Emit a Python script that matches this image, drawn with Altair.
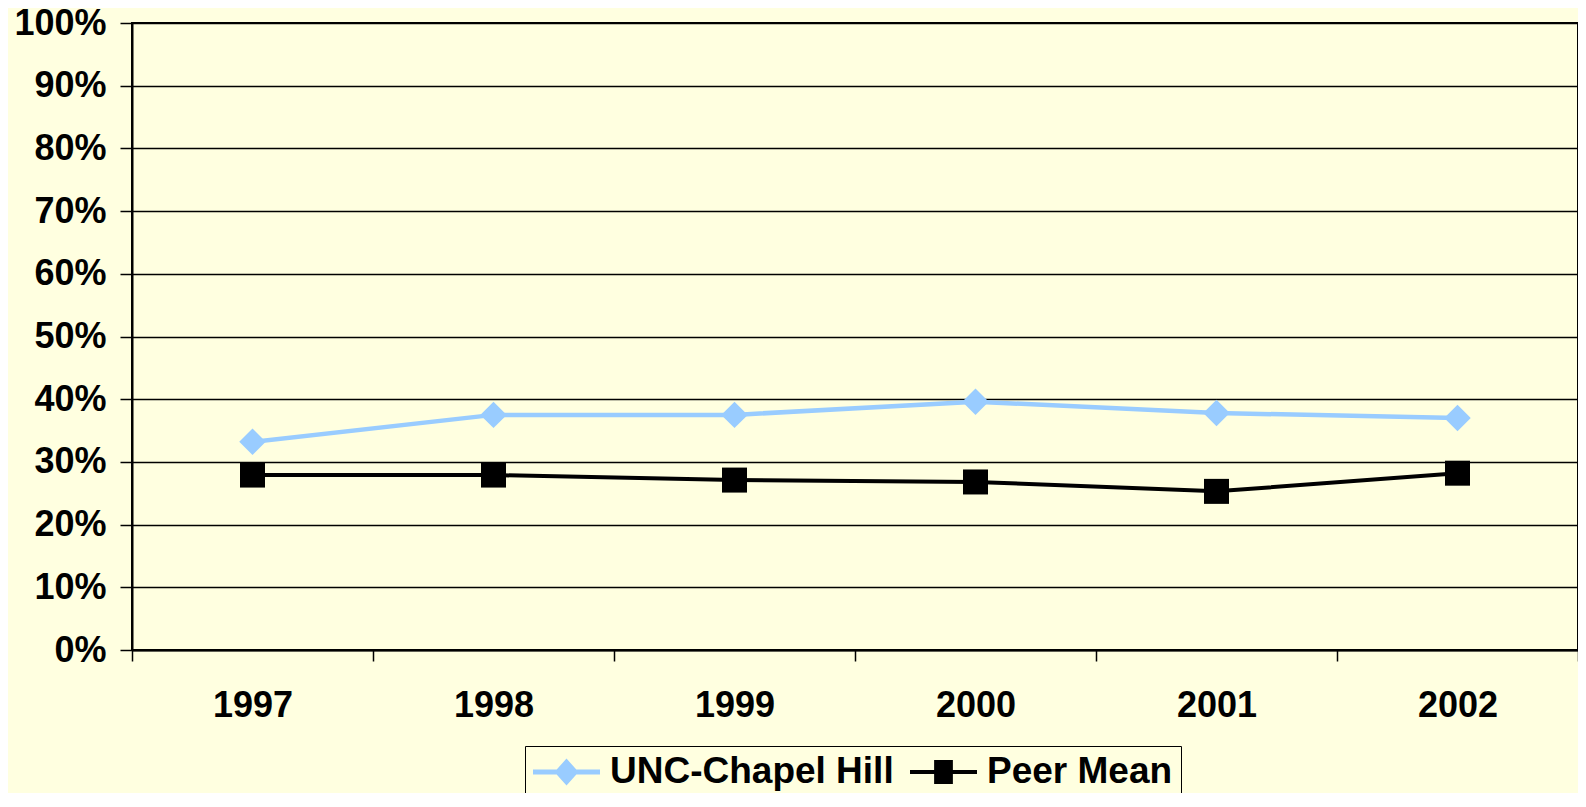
import altair as alt
import pandas as pd

years = ["1997", "1998", "1999", "2000", "2001", "2002"]
series_names = ["UNC-Chapel Hill", "Peer Mean"]
unc = [33.2, 37.5, 37.5, 39.6, 37.8, 37.0]
peer = [27.9, 27.9, 27.1, 26.8, 25.3, 28.2]
y_ticks = [0, 10, 20, 30, 40, 50, 60, 70, 80, 90, 100]

colors = ["#99CCFF", "#000000"]
# legend symbols: line segment + marker (custom SVG paths, all filled, clockwise)
legend_paths = [
    "M-1,-0.075H1V0.075H-1ZM0,-0.4L0.36,0L0,0.4L-0.36,0Z",
    "M-1,-0.06H1V0.06H-1ZM-0.28,-0.36H0.28V0.36H-0.28Z",
]

rows = []
for s, vals in zip(series_names, [unc, peer]):
    for yr, v in zip(years, vals):
        rows.append({"year": yr, "series": s, "value": v})
df = pd.DataFrame(rows)

FONT = "Liberation Sans"
BG = "#FFFFE0"

x_enc = alt.X(
    "year:N",
    sort=years,
    scale=alt.Scale(paddingInner=0, paddingOuter=0),
    axis=alt.Axis(
        title=None,
        labelAngle=0,
        tickBand="extent",
        tickSize=11,
        tickWidth=1.5,
        tickColor="black",
        labelPadding=27,
        labelBaseline="top",
        labelFont=FONT,
        labelFontSize=36,
        labelFontWeight="bold",
        labelColor="black",
        domainColor="black",
        domainWidth=2,
        grid=False,
    ),
)
y_enc = alt.Y(
    "value:Q",
    scale=alt.Scale(domain=[0, 100], nice=False),
    axis=alt.Axis(
        title=None,
        values=y_ticks,
        labelExpr="datum.value + '%'",
        labelFont=FONT,
        labelFontSize=36,
        labelFontWeight="bold",
        labelColor="black",
        labelPadding=14,
        tickSize=12,
        tickWidth=1.5,
        tickColor="black",
        domainColor="black",
        domainWidth=2,
        grid=True,
        gridColor="black",
        gridWidth=1.5,
    ),
)

base = alt.Chart(df)

unc_line = base.transform_filter(alt.datum.series == series_names[0]).mark_line(
    color=colors[0], strokeWidth=4.5
).encode(x=x_enc, y=y_enc)
unc_pts = base.transform_filter(alt.datum.series == series_names[0]).mark_point(
    shape="diamond", filled=True, size=700, color=colors[0], opacity=1
).encode(x=x_enc, y=y_enc)
peer_line = base.transform_filter(alt.datum.series == series_names[1]).mark_line(
    color=colors[1], strokeWidth=4
).encode(x=x_enc, y=y_enc)
peer_pts = base.transform_filter(alt.datum.series == series_names[1]).mark_point(
    shape="square", filled=True, size=625, color=colors[1], opacity=1
).encode(x=x_enc, y=y_enc)

leg = alt.Legend(
    title=None,
    orient="none",
    legendX=393,
    legendY=723,
    direction="horizontal",
    columnPadding=16,
    labelOffset=10,
    padding=8,
    strokeColor="black",
    fillColor=BG,
    labelFont=FONT,
    labelFontSize=37,
    labelFontWeight="bold",
    labelColor="black",
    labelLimit=600,
    symbolSize=4489,
    symbolStrokeWidth=0,
    symbolOpacity=1,
    clipHeight=36,
)

legend_layer = base.transform_filter("false").mark_point(
    filled=True, size=4489, opacity=1
).encode(
    x=x_enc,
    y=y_enc,
    color=alt.Color("series:N", scale=alt.Scale(domain=series_names, range=colors), legend=leg),
    shape=alt.Shape("series:N", scale=alt.Scale(domain=series_names, range=legend_paths), legend=leg),
)

chart = (
    alt.layer(unc_line, peer_line, unc_pts, peer_pts, legend_layer)
    .properties(
        width=1446,
        height=627,
        background=BG,
        padding={"left": 124, "top": 15, "right": 0, "bottom": 143},
        autosize=alt.AutoSizeParams(type="none"),
    )
    .configure_view(stroke="black", strokeWidth=2)
)

chart.save("out.html", embed_options={"renderer": "svg", "actions": False})
